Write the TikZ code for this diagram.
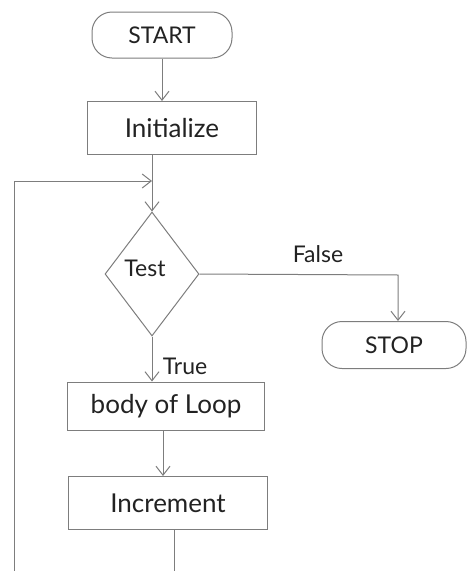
\documentclass[tikz,border=0pt]{standalone}
\usepackage{fontspec}
\setmainfont{Lato}
\usetikzlibrary{shapes.geometric,arrows.meta}
\definecolor{ink}{RGB}{34,34,34}
\definecolor{pen}{RGB}{125,125,125}
\tikzset{
  x=1pt,y=-1pt,
  every node/.style={text=ink},
  term/.style={draw=pen,line width=1pt,rounded corners=20pt,inner sep=0pt,font=\fontsize{23}{25}\selectfont},
  procbox/.style={draw=pen,line width=1pt,inner sep=0pt,font=\fontsize{26}{28}\selectfont},
  decide/.style={draw=pen,line width=1pt,diamond,inner sep=0pt,minimum width=94pt,minimum height=124pt,font=\fontsize{22}{24}\selectfont},
  flow/.style={draw=pen,line width=1pt,-{Straight Barb[length=9pt,width=14pt]}},
  plain/.style={draw=pen,line width=1pt},
  lbl/.style={font=\fontsize{23}{25}\selectfont}
}
\begin{document}
\begin{tikzpicture}
\useasboundingbox (0,0) rectangle (472,571);
\node[term,minimum width=140pt,minimum height=46pt] (start) at (162,35) {START};
\node[procbox,minimum width=169pt,minimum height=53pt] (init) at (172,128) {Initialize};
\node[decide] (test) at (152,274) {};
\node[lbl] (testtxt) at (145,268) {Test};
\node[term,minimum width=144pt,minimum height=47pt] (stop) at (394,345) {STOP};
\node[procbox,minimum width=197pt,minimum height=48pt] (body) at (166,406) {body of Loop};
\node[procbox,minimum width=199pt,minimum height=53pt] (inc) at (168,503) {Increment};
\node[lbl] (false) at (318,254) {False};
\node[lbl] (true) at (185,366) {True};
\coordinate (join) at (152,181);
\coordinate (leftbot) at (14,571);
\coordinate (incbot) at (174,571);
\coordinate (fcorner) at (398,275);
\draw[flow] (start.south) -- (start.south |- init.north);
\draw[plain] (init.south -| test.north) -- (join);
\draw[flow] (join) -- (test.north);
\draw[flow] (leftbot) -- (leftbot |- join) -- (join);
\draw[flow] (test.east) -- (fcorner) -- (fcorner |- stop.north);
\draw[flow] (test.south) -- (test.south |- body.north);
\draw[flow] (body.south -| 163,0) -- (inc.north -| 163,0);
\draw[plain] (inc.south -| incbot) -- (incbot);
\end{tikzpicture}
\end{document}
